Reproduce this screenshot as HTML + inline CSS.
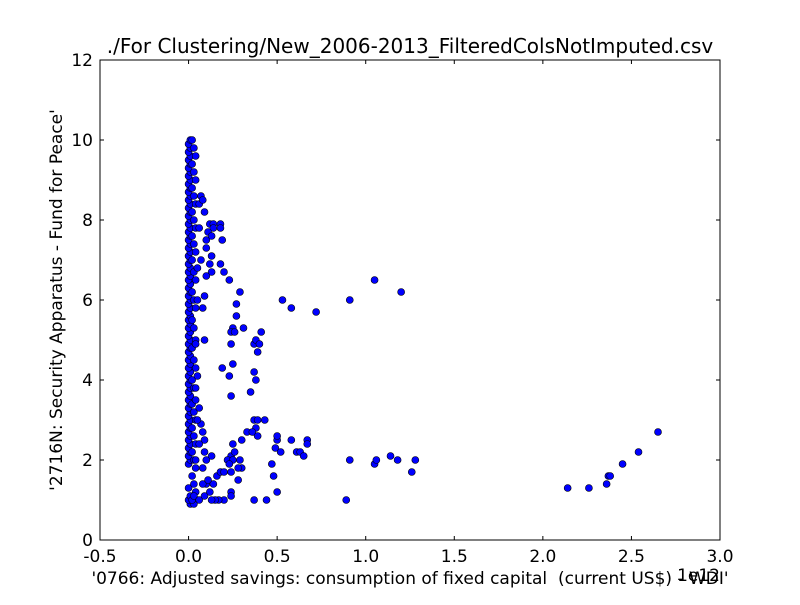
<!DOCTYPE html>
<html><head><meta charset="utf-8"><style>
body{margin:0;background:#fff;}
svg text{font-family:"DejaVu Sans","Liberation Sans",sans-serif;fill:#000;}
</style></head><body>
<svg id="chart" width="800" height="600" xmlns="http://www.w3.org/2000/svg">
<rect width="800" height="600" fill="#fff"/>
<text x="410" y="53" font-size="20" text-anchor="middle">./For Clustering/New_2006-2013_FilteredColsNotImputed.csv</text>
<g id="ticks"></g>
<g id="points"></g>
<rect x="100" y="60" width="620" height="480" fill="none" stroke="#000" stroke-width="1"/>
<text x="410" y="584" font-size="17" text-anchor="middle">'0766: Adjusted savings: consumption of fixed capital&#160; (current US$) - WDI'</text>
<text x="720" y="581" font-size="17" text-anchor="end">1e12</text>
<text transform="translate(62,300) rotate(-90)" font-size="17" text-anchor="middle">'2716N: Security Apparatus - Fund for Peace'</text>
</svg>
<script>
const xTicks=[-0.5,0.0,0.5,1.0,1.5,2.0,2.5,3.0];
const xTickLabels=["-0.5","0.0","0.5","1.0","1.5","2.0","2.5","3.0"];
const yTicks=[0,2,4,6,8,10,12];
const yTickLabels=["0","2","4","6","8","10","12"];
const colY=[0.9,1.0,1.1,1.3,1.9,2.0,2.1,2.2,2.3,2.4,2.5,2.6,2.7,2.8,2.9,3.0,3.1,3.2,3.3,3.4,3.5,3.6,3.7,3.8,3.9,4.0,4.1,4.2,4.3,4.4,4.5,4.6,4.7,4.8,4.9,5.0,5.1,5.2,5.3,5.4,5.5,5.6,5.7,5.8,5.9,6.0,6.1,6.2,6.3,6.4,6.5,6.6,6.7,6.8,6.9,7.0,7.1,7.2,7.3,7.4,7.5,7.6,7.7,7.8,7.9,8.0,8.1,8.2,8.3,8.4,8.5,8.6,8.7,8.8,8.9,9.0,9.1,9.2,9.3,9.4,9.5,9.6,9.7,9.8,9.9,10.0];
const colX=[0.01,0.00,0.01,0.00,0.00,0.01,0.00,0.01,0.00,0.01,0.00,0.01,0.00,0.01,0.00,0.01,0.00,0.01,0.00,0.01,0.00,0.01,0.00,0.01,0.00,0.01,0.00,0.01,0.00,0.01,0.00,0.01,0.00,0.01,0.00,0.01,0.00,0.01,0.00,0.01,0.00,0.01,0.00,0.01,0.00,0.01,0.00,0.01,0.00,0.01,0.00,0.01,0.00,0.01,0.00,0.01,0.00,0.01,0.00,0.01,0.00,0.01,0.00,0.01,0.00,0.01,0.00,0.01,0.00,0.01,0.00,0.01,0.00,0.01,0.00,0.01,0.00,0.01,0.00,0.01,0.00,0.01,0.00,0.01,0.00,0.01];
const col2X=[0.03,0.02,0.04,0.03,0.02,0.04,0.03,0.02,0.04,0.03,0.02,0.04,0.03,0.02,0.04,0.03,0.02,0.04,0.03,0.02,0.04,0.03,0.02,0.04,0.03,0.02,0.04,0.03,0.02,0.04,0.03,0.02,0.04,0.03,0.02,0.04,0.03,0.02,0.04,0.03,0.02,0.04,0.03,0.02,0.04,0.03];
const col2Y=[0.9,1.0,1.2,1.4,1.6,1.8,2.0,2.2,2.4,2.6,2.8,3.0,3.2,3.4,3.5,3.8,4.0,4.3,4.5,4.8,5.0,5.3,5.5,5.8,6.0,6.2,6.5,6.7,7.0,7.2,7.4,7.6,7.8,8.0,8.2,8.4,8.6,8.8,9.0,9.2,9.4,9.6,9.8,10.0,2.0,1.1];
const scatX=[2.14,2.26,2.36,2.37,2.38,2.45,2.54,2.65,0.91,1.05,1.06,1.14,1.18,1.28,1.26,0.89,0.53,0.58,0.72,0.91,1.05,1.20,0.43,0.37,0.39,0.38,0.33,0.36,0.39,0.29,0.30,0.25,0.49,0.50,0.50,0.52,0.58,0.61,0.63,0.65,0.67,0.67,0.47,0.48,0.50,0.44,0.37,0.28,0.30,0.28,0.24,0.22,0.25,0.26,0.23,0.24,0.24,0.20,0.17,0.15,0.13,0.12,0.10,0.14,0.16,0.18,0.20,0.24,0.13,0.08,0.08,0.06,0.09,0.11,0.23,0.25,0.24,0.26,0.27,0.27,0.29,0.31,0.35,0.37,0.37,0.38,0.38,0.39,0.40,0.41,0.23,0.25,0.24,0.24,0.19,0.13,0.12,0.10,0.10,0.12,0.14,0.14,0.11,0.13,0.13,0.18,0.19,0.18,0.20,0.18,0.10,0.09,0.08,0.07,0.06,0.08,0.09,0.06,0.07,0.09,0.05,0.05,0.04,0.05,0.04,0.06,0.07,0.08,0.09,0.09,0.10,0.06,0.05];
const scatY=[1.3,1.3,1.4,1.6,1.6,1.9,2.2,2.7,2.0,1.9,2.0,2.1,2.0,2.0,1.7,1.0,6.0,5.8,5.7,6.0,6.5,6.2,3.0,3.0,3.0,2.8,2.7,2.7,2.6,2.0,2.5,2.4,2.3,2.5,2.6,2.2,2.5,2.2,2.2,2.1,2.5,2.4,1.9,1.6,1.2,1.0,1.0,1.5,1.8,1.8,2.1,2.0,2.0,2.2,1.9,1.2,1.1,1.0,1.0,1.0,1.0,1.2,1.4,1.4,1.6,1.7,1.7,1.7,2.1,1.8,1.4,1.0,1.1,1.5,6.5,5.3,5.2,5.2,5.9,5.6,6.2,5.3,3.7,4.9,4.2,5.0,4.0,4.7,4.9,5.2,4.1,4.4,4.9,3.6,4.3,6.7,6.9,7.3,7.5,7.9,7.9,7.8,7.7,7.6,7.1,7.9,7.5,7.8,6.7,6.9,6.6,6.1,5.8,8.6,8.4,8.5,8.2,7.8,7.0,5.0,6.8,6.0,4.9,4.1,3.8,3.3,2.9,2.7,2.5,2.2,2.0,2.4,3.0];
const L=100,R=720,T=60,B=540,xMin=-0.5,xMax=3.0,yMin=0,yMax=12;
function sx(v){return L+(v-xMin)/(xMax-xMin)*(R-L);}
function sy(v){return B-(v-yMin)/(yMax-yMin)*(B-T);}
const NS="http://www.w3.org/2000/svg";
const tg=document.getElementById('ticks');
function mk(tag,attrs,parent){const e=document.createElementNS(NS,tag);for(const k in attrs)e.setAttribute(k,attrs[k]);parent.appendChild(e);return e;}
xTicks.forEach((v,i)=>{const x=sx(v);
 mk('line',{x1:x,x2:x,y1:B,y2:B-4,stroke:'#000'},tg);
 mk('line',{x1:x,x2:x,y1:T,y2:T+4,stroke:'#000'},tg);
 const t=mk('text',{x:x,y:B+22,'font-size':17,'text-anchor':'middle'},tg);t.textContent=xTickLabels[i];
 
 
});
yTicks.forEach((v,i)=>{const y=sy(v);
 mk('line',{x1:L,x2:L+4,y1:y,y2:y,stroke:'#000'},tg);
 mk('line',{x1:R,x2:R-4,y1:y,y2:y,stroke:'#000'},tg);
 const t=mk('text',{x:L-7,y:y+6,'font-size':17,'text-anchor':'end'},tg);t.textContent=yTickLabels[i];
 
 
});
const pg=document.getElementById('points');
function plot(xs,ys){for(let i=0;i<xs.length;i++){
 const c=mk('circle',{cx:sx(xs[i]),cy:sy(ys[i]),r:3.5,fill:'#0000ff',stroke:'#000','stroke-width':0.6},pg);
 
 
}}
plot(colX,colY);plot(col2X,col2Y);plot(scatX,scatY);
</script>
</body></html>
